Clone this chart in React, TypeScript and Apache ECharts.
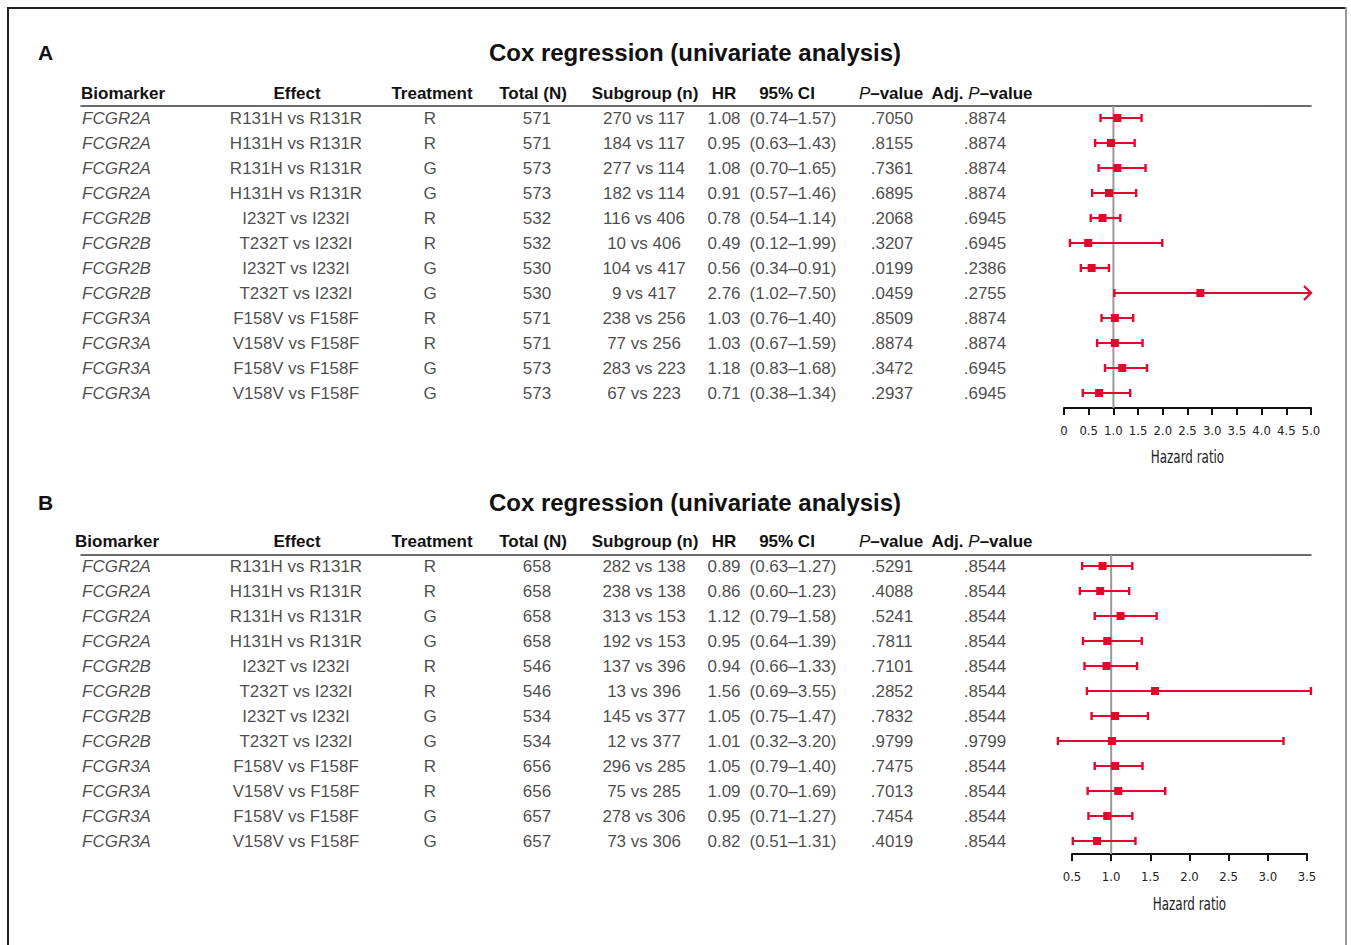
import React, { useEffect, useRef } from "react";
import * as echarts from "echarts";

// ---------- data ----------
const biomarkers = [
  "FCGR2A", "FCGR2A", "FCGR2A", "FCGR2A",
  "FCGR2B", "FCGR2B", "FCGR2B", "FCGR2B",
  "FCGR3A", "FCGR3A", "FCGR3A", "FCGR3A",
];
const effects = [
  "R131H vs R131R", "H131H vs R131R", "R131H vs R131R", "H131H vs R131R",
  "I232T vs I232I", "T232T vs I232I", "I232T vs I232I", "T232T vs I232I",
  "F158V vs F158F", "V158V vs F158F", "F158V vs F158F", "V158V vs F158F",
];
const treatments = ["R", "R", "G", "G", "R", "R", "G", "G", "R", "R", "G", "G"];

const totalA = [571, 571, 573, 573, 532, 532, 530, 530, 571, 571, 573, 573];
const subgroupA = [
  "270 vs 117", "184 vs 117", "277 vs 114", "182 vs 114",
  "116 vs 406", "10 vs 406", "104 vs 417", "9 vs 417",
  "238 vs 256", "77 vs 256", "283 vs 223", "67 vs 223",
];
const hrA = [1.08, 0.95, 1.08, 0.91, 0.78, 0.49, 0.56, 2.76, 1.03, 1.03, 1.18, 0.71];
const loA = [0.74, 0.63, 0.70, 0.57, 0.54, 0.12, 0.34, 1.02, 0.76, 0.67, 0.83, 0.38];
const hiA = [1.57, 1.43, 1.65, 1.46, 1.14, 1.99, 0.91, 7.50, 1.40, 1.59, 1.68, 1.34];
const pA = [".7050", ".8155", ".7361", ".6895", ".2068", ".3207", ".0199", ".0459", ".8509", ".8874", ".3472", ".2937"];
const adjA = [".8874", ".8874", ".8874", ".8874", ".6945", ".6945", ".2386", ".2755", ".8874", ".8874", ".6945", ".6945"];

const totalB = [658, 658, 658, 658, 546, 546, 534, 534, 656, 656, 657, 657];
const subgroupB = [
  "282 vs 138", "238 vs 138", "313 vs 153", "192 vs 153",
  "137 vs 396", "13 vs 396", "145 vs 377", "12 vs 377",
  "296 vs 285", "75 vs 285", "278 vs 306", "73 vs 306",
];
const hrB = [0.89, 0.86, 1.12, 0.95, 0.94, 1.56, 1.05, 1.01, 1.05, 1.09, 0.95, 0.82];
const loB = [0.63, 0.60, 0.79, 0.64, 0.66, 0.69, 0.75, 0.32, 0.79, 0.70, 0.71, 0.51];
const hiB = [1.27, 1.23, 1.58, 1.39, 1.33, 3.55, 1.47, 3.20, 1.40, 1.69, 1.27, 1.31];
const pB = [".5291", ".4088", ".5241", ".7811", ".7101", ".2852", ".7832", ".9799", ".7475", ".7013", ".7454", ".4019"];
const adjB = [".8544", ".8544", ".8544", ".8544", ".8544", ".8544", ".8544", ".9799", ".8544", ".8544", ".8544", ".8544"];

const ticksA = { min: 0, max: 5, interval: 0.5 };
const ticksB = { min: 0.5, max: 3.5, interval: 0.5 };

const titleText = "Cox regression (univariate analysis)";
const axisTitle = "Hazard ratio";

// ---------- style ----------
const RED = "#e3062d";
const TXT = "#1a1a1a";
const SANS = "'Liberation Sans', Arial, Helvetica, sans-serif";
const COND = "'DejaVu Sans Condensed', 'Liberation Sans Narrow', sans-serif";
const FS = 17;

function buildOption() {
  const panels = [
    {
      label: "A", titleY: 52, headerY: 93, top: 106, height: 302, yMin: -0.48,
      bioHeaderX: 81, forestLeft: 1064, forestWidth: 247, ticks: ticksA, nameY: 457,
      total: totalA, sub: subgroupA, hr: hrA, lo: loA, hi: hiA, p: pA, adj: adjA,
    },
    {
      label: "B", titleY: 502, headerY: 541, top: 555, height: 299, yMin: -0.44,
      bioHeaderX: 75, forestLeft: 1072, forestWidth: 235, ticks: ticksB, nameY: 904,
      total: totalB, sub: subgroupB, hr: hrB, lo: loB, hi: hiB, p: pB, adj: adjB,
    },
  ];
  const rowH = 25;
  const grid: any[] = [];
  const xAxis: any[] = [];
  const yAxis: any[] = [];
  const series: any[] = [];
  const graphic: any[] = [];

  // frame
  graphic.push(
    { type: "line", shape: { x1: 8, y1: 7, x2: 8, y2: 945 }, style: { stroke: "#222", lineWidth: 2 } },
    { type: "line", shape: { x1: 7, y1: 8, x2: 1347, y2: 8 }, style: { stroke: "#222", lineWidth: 2 } },
    { type: "line", shape: { x1: 1346, y1: 7, x2: 1346, y2: 945 }, style: { stroke: "#9a9a9a", lineWidth: 2 } }
  );

  panels.forEach((P, pi) => {
    const yMax = P.yMin + P.height / rowH;
    const tg = pi * 2;
    const fg = pi * 2 + 1;
    grid.push({ left: 81, top: P.top, width: 1230, height: P.height });
    grid.push({ left: P.forestLeft, top: P.top, width: P.forestWidth, height: P.height });

    xAxis.push({
      gridIndex: tg, type: "value", min: 81, max: 1311, position: "top",
      axisLine: { show: true, onZero: false, lineStyle: { color: "#3a3a3a", width: 1.5 } },
      axisTick: { show: false }, axisLabel: { show: false }, splitLine: { show: false },
    });
    xAxis.push({
      gridIndex: fg, type: "value", min: P.ticks.min, max: P.ticks.max, interval: P.ticks.interval,
      position: "bottom",
      axisLine: { show: true, onZero: false, lineStyle: { color: "#111", width: 2 } },
      axisTick: { show: true, inside: false, length: 7, lineStyle: { color: "#111", width: 2 } },
      axisLabel: {
        formatter: (v: number) => (v === 0 ? "0" : v.toFixed(1)),
        fontSize: 13, fontFamily: COND, color: "#222", margin: 16,
      },
      splitLine: { show: false },
    });
    [tg, fg].forEach((g) =>
      yAxis.push({
        gridIndex: g, type: "value", inverse: true, min: P.yMin, max: yMax, show: false,
        splitLine: { show: false },
      })
    );

    // table columns
    const cis = P.lo.map((l, i) => `(${l.toFixed(2)}\u2013${P.hi[i].toFixed(2)})`);
    const cols = [
      { vals: biomarkers, x: 82, align: "left", italic: true },
      { vals: effects, x: 296, align: "center" },
      { vals: treatments, x: 430, align: "center" },
      { vals: P.total.map(String), x: 537, align: "center" },
      { vals: P.sub, x: 644, align: "center" },
      { vals: P.hr.map((v) => v.toFixed(2)), x: 724, align: "center" },
      { vals: cis, x: 793, align: "center" },
      { vals: P.p, x: 892, align: "center" },
      { vals: P.adj, x: 985, align: "center" },
    ];
    cols.forEach((c) => {
      series.push({
        type: "scatter", xAxisIndex: tg, yAxisIndex: tg, symbolSize: 0, silent: true,
        data: c.vals.map((t, i) => ({ name: t, value: [c.x, i] })),
        label: {
          show: true, position: [0, 0], formatter: (p: any) => p.name,
          align: c.align, verticalAlign: "middle", fontSize: FS, fontFamily: SANS,
          fontStyle: c.italic ? "italic" : "normal", color: TXT,
        },
        emphasis: { disabled: true },
      });
    });

    // reference line at HR = 1
    series.push({
      type: "line", xAxisIndex: fg, yAxisIndex: fg, symbol: "none", silent: true, z: 1,
      data: [[1, P.yMin], [1, yMax]],
      lineStyle: { color: "#999", width: 2 },
    });

    // forest marks
    const xMax = P.ticks.max;
    series.push({
      type: "custom", xAxisIndex: fg, yAxisIndex: fg, clip: false, z: 3, silent: true,
      data: P.hr.map((h, i) => [h, i, P.lo[i], P.hi[i]]),
      encode: { x: 0, y: 1 },
      renderItem: (params: any, api: any) => {
        const h = api.value(0), i = api.value(1), l = api.value(2), u = api.value(3);
        const c = api.coord([h, i]);
        const a = api.coord([l, i]);
        const arrow = u > xMax * 1.1;
        const b = api.coord([arrow ? xMax : u, i]);
        const y = c[1];
        const children: any[] = [
          { type: "line", shape: { x1: a[0], y1: y, x2: b[0], y2: y }, style: { stroke: RED, lineWidth: 2.2 } },
          { type: "line", shape: { x1: a[0], y1: y - 4, x2: a[0], y2: y + 4 }, style: { stroke: RED, lineWidth: 2.4 } },
          arrow
            ? { type: "polyline", shape: { points: [[b[0] - 7, y - 7], [b[0], y], [b[0] - 7, y + 7]] }, style: { stroke: RED, lineWidth: 2.2, fill: "none" } }
            : { type: "line", shape: { x1: b[0], y1: y - 4, x2: b[0], y2: y + 4 }, style: { stroke: RED, lineWidth: 2.4 } },
          { type: "rect", shape: { x: c[0] - 4, y: y - 4, width: 8, height: 8 }, style: { fill: RED } },
        ];
        return { type: "group", children };
      },
    });

    // panel label, title, headers, axis title
    graphic.push(
      { type: "text", x: 38, y: P.titleY, style: { text: P.label, font: `bold 21px ${SANS}`, fill: "#111", verticalAlign: "middle", align: "left" } },
      { type: "text", x: 695, y: P.titleY, style: { text: titleText, font: `bold 24px ${SANS}`, fill: "#111", verticalAlign: "middle", align: "center" } },
      {
        type: "text", x: P.forestLeft + P.forestWidth / 2, y: P.nameY, scaleX: 0.78,
        style: { text: axisTitle, font: `17px ${COND}`, fill: "#222", verticalAlign: "middle", align: "center" },
      }
    );
    const headers = [
      { t: "{b|Biomarker}", x: P.bioHeaderX, align: "left" },
      { t: "{b|Effect}", x: 297, align: "center" },
      { t: "{b|Treatment}", x: 432, align: "center" },
      { t: "{b|Total (N)}", x: 533, align: "center" },
      { t: "{b|Subgroup (n)}", x: 645, align: "center" },
      { t: "{b|HR}", x: 724, align: "center" },
      { t: "{b|95% CI}", x: 787, align: "center" },
      { t: "{i|P}{b|\u2013value}", x: 891, align: "center" },
      { t: "{b|Adj. }{i|P}{b|\u2013value}", x: 982, align: "center" },
    ];
    headers.forEach((h) =>
      graphic.push({
        type: "text", x: h.x, y: P.headerY,
        style: {
          text: h.t, align: h.align, verticalAlign: "middle", fill: "#111",
          rich: {
            b: { fontWeight: "bold", fontSize: FS, fontFamily: SANS, fill: "#111", color: "#111" },
            i: { fontStyle: "italic", fontWeight: "normal", fontSize: FS, fontFamily: SANS, fill: "#111", color: "#111" },
          },
        },
      })
    );
  });

  return {
    animation: false,
    backgroundColor: "#ffffff",
    grid, xAxis, yAxis, series, graphic,
  };
}

export default function App() {
  const ref = useRef<HTMLDivElement>(null);
  useEffect(() => {
    document.body.style.margin = "0";
    const chart = echarts.init(ref.current!, null, { renderer: "svg" });
    chart.setOption(buildOption() as any);
    return () => chart.dispose();
  }, []);
  return <div ref={ref} style={{ width: 1351, height: 945 }} />;
}
